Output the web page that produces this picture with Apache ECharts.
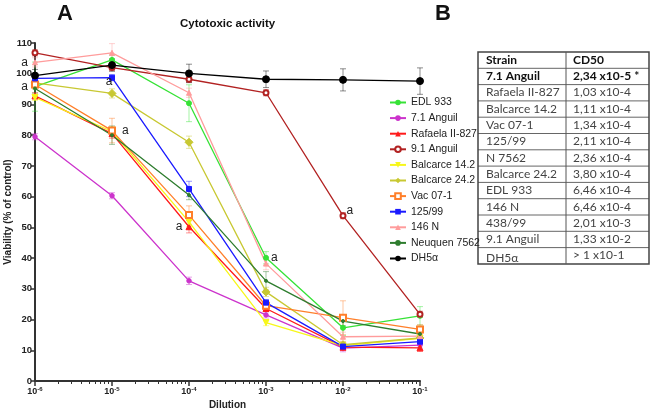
<!DOCTYPE html>
<html><head><meta charset="utf-8">
<script src="https://cdn.jsdelivr.net/npm/echarts@6/dist/echarts.min.js"></script>
<style>html,body{margin:0;padding:0;background:#fff}#c{width:651px;height:410px}</style>
</head><body><div id="c"></div>
<script>
// ---- data ----
const dilutions = [1e-6, 1e-5, 1e-4, 1e-3, 1e-2, 1e-1];
const xTickExponents = ['-6', '-5', '-4', '-3', '-2', '-1'];
const strains = ['EDL 933', '7.1 Anguil', 'Rafaela II-827', '9.1 Anguil', 'Balcarce 14.2', 'Balcarce 24.2', 'Vac 07-1', '125/99', '146 N', 'Neuquen 7562', 'DH5α'];
const edl933      = [95.8, 104.5, 90.4, 40.1, 17.3, 21.2];
const anguil71    = [79.5, 60.3, 32.6, 21.5, 10.7, 11.7];
const rafaela827  = [92.8, 80.5, 50.2, 23.6, 11.0, 10.8];
const anguil91    = [106.8, 102.0, 98.2, 93.8, 53.8, 21.7];
const balcarce142 = [92.3, 81.2, 51.8, 19.0, 11.5, 13.9];
const balcarce242 = [97.0, 93.6, 77.7, 29.0, 11.8, 14.0];
const vac071      = [96.5, 81.5, 54.0, 24.5, 20.6, 16.8];
const s125_99     = [98.5, 98.7, 62.5, 25.5, 11.2, 12.8];
const n146        = [103.7, 106.8, 93.8, 38.2, 14.4, 14.6];
const neuquen7562 = [95.2, 80.0, 60.5, 32.6, 19.5, 15.3];
const dh5a        = [99.4, 102.8, 100.1, 98.2, 98.0, 97.6];
// error bar half-widths (SEM)
const edl933Err      = [8, 1.5, 6, 2, 2.5, 3];
const anguil71Err    = [1, 1, 1.2, 1, 1.2, 1];
const rafaela827Err  = [1, 1.5, 2, 1, 1, 1.2];
const anguil91Err    = [1, 1, 1, 1, 1, 1];
const balcarce142Err = [1, 1.5, 1.5, 1, 1, 1];
const balcarce242Err = [1.5, 1.5, 2, 1.5, 1, 1];
const vac071Err      = [1.5, 4, 3, 1.5, 5.5, 1.5];
const s125_99Err     = [1, 1, 2.5, 1, 1, 1];
const n146Err        = [1.5, 3, 1.5, 2, 1.5, 1];
const neuquen7562Err = [1.5, 3, 1.5, 3, 1.5, 1];
const dh5aErr        = [2, 2, 3, 2.7, 3.6, 4.3];
const yTicks = [0, 10, 20, 30, 40, 50, 60, 70, 80, 90, 100, 110];
// annotated points ("a"): strain, point index
const annotations = [['146 N', 0], ['EDL 933', 0], ['125/99', 1], ['Vac 07-1', 1], ['Rafaela II-827', 2], ['EDL 933', 3], ['9.1 Anguil', 4]];
// table B
const tableStrains = ['7.1 Anguil', 'Rafaela II-827', 'Balcarce 14.2', 'Vac 07-1', '125/99', 'N 7562', 'Balcarce 24.2', 'EDL 933', '146 N', '438/99', '9.1 Anguil', 'DH5α'];
const tableCD50 = ['2,34 x10-5 *', '1,03 x10-4', '1,11 x10-4', '1,34 x10-4', '2,11 x10-4', '2,36 x10-4', '3,80 x10-4', '6,46 x10-4', '6,46 x10-4', '2,01 x10-3', '1,33 x10-2', '> 1 x10-1'];
const tableHeader = ['Strain', 'CD50'];

const values = [edl933, anguil71, rafaela827, anguil91, balcarce142, balcarce242, vac071, s125_99, n146, neuquen7562, dh5a];
const errs = [edl933Err, anguil71Err, rafaela827Err, anguil91Err, balcarce142Err, balcarce242Err, vac071Err, s125_99Err, n146Err, neuquen7562Err, dh5aErr];

// ---- styles ----
const styles = {
  'EDL 933':       {c: '#36e236', s: 'circle', z: 5},
  '7.1 Anguil':    {c: '#cc33cc', s: 'circle', z: 4.5},
  'Rafaela II-827':{c: '#ff1a1a', s: 'triangle', z: 6},
  '9.1 Anguil':    {c: '#b22222', s: 'emptyCircle', z: 5},
  'Balcarce 14.2': {c: '#f7f71a', s: 'triangle', z: 6, rot: 180},
  'Balcarce 24.2': {c: '#c8c832', s: 'diamond', z: 8},
  'Vac 07-1':      {c: '#ff7f2a', s: 'emptyRect', z: 6},
  '125/99':        {c: '#1a1aff', s: 'rect', z: 5},
  '146 N':         {c: '#ff9c9c', s: 'triangle', z: 5},
  'Neuquen 7562':  {c: '#2e7d2e', s: 'circle', z: 3},
  'DH5α':          {c: '#000000', s: 'circle', z: 7}
};
const annLabel = {
  '146 N|0': {position: 'left', distance: 4},
  'EDL 933|0': {position: 'left', distance: 4},
  '125/99|1': {position: 'inside', offset: [-3, 4]},
  'Vac 07-1|1': {position: 'right', distance: 6},
  'Rafaela II-827|2': {position: 'left', distance: 3},
  'EDL 933|3': {position: 'right', distance: 2},
  '9.1 Anguil|4': {position: 'right', offset: [-1, -5], distance: 1}
};

const FONT = '"Liberation Sans", Arial, sans-serif';
const series = [];
strains.forEach((name, i) => {
  const st = styles[name];
  series.push({
    name: 'err-' + name, type: 'custom', xAxisIndex: 0, yAxisIndex: 0, z: 1, silent: true,
    data: dilutions.map((d, j) => [d, values[i][j], errs[i][j]]),
    encode: {x: 0, y: 1},
    renderItem: (params, api) => {
      const x = api.value(0), y = api.value(1), e = api.value(2);
      const top = api.coord([x, y + e]), bot = api.coord([x, y - e]);
      const w = 3;
      const style = {stroke: st.c, lineWidth: 1, opacity: 0.45};
      return {type: 'group', children: [
        {type: 'line', shape: {x1: top[0], y1: top[1], x2: bot[0], y2: bot[1]}, style},
        {type: 'line', shape: {x1: top[0] - w, y1: top[1], x2: top[0] + w, y2: top[1]}, style},
        {type: 'line', shape: {x1: bot[0] - w, y1: bot[1], x2: bot[0] + w, y2: bot[1]}, style}
      ]};
    }
  });
});
strains.forEach((name, i) => {
  const st = styles[name];
  series.push({
    name, type: 'line', xAxisIndex: 0, yAxisIndex: 0, z: 3,
    symbol: st.s, symbolSize: st.z, symbolRotate: st.rot || 0, showSymbol: true,
    lineStyle: {color: st.c, width: 1.3},
    itemStyle: {color: st.c, borderColor: st.c},
    emphasis: {disabled: true},
    data: dilutions.map((d, j) => {
      const key = name + '|' + j;
      const isAnn = annotations.some(a => a[0] === name && a[1] === j);
      const item = {value: [d, values[i][j]]};
      if (isAnn) item.label = Object.assign({show: true, formatter: 'a', color: '#222', fontSize: 12, fontFamily: FONT}, annLabel[key] || {position: 'right'});
      return item;
    })
  });
});

const minorTicks = [];
for (let e = -6; e < -1; e++) for (let k = 2; k <= 9; k++) minorTicks.push(e + Math.log10(k));

// table graphic
const tbl = {x0: 478, x1: 566, x2: 649, y0: 52, rh: 16.3};
const tg = [];
const nRows = tableStrains.length + 1;
for (let r = 0; r < nRows; r++) {
  const y = tbl.y0 + r * tbl.rh;
  const bold = r <= 1;
  const cells = r === 0 ? tableHeader : [tableStrains[r - 1], tableCD50[r - 1]];
  const last = r === nRows - 1;
  tg.push({type: 'text', left: tbl.x0 + 8, top: y + (last ? 5 : 2), style: {text: cells[0], fontFamily: 'Lato, "Open Sans", sans-serif', fontSize: 12, fontWeight: bold ? 'bold' : 'normal', fill: bold ? '#111' : '#444'}});
  tg.push({type: 'text', left: tbl.x1 + 7, top: y + 2, style: {text: cells[1], fontFamily: 'Lato, "Open Sans", sans-serif', fontSize: 12, fontWeight: bold ? 'bold' : 'normal', fill: bold ? '#111' : '#444'}});
  if (r > 0) tg.push({type: 'line', shape: {x1: tbl.x0, y1: y, x2: tbl.x2, y2: y}, style: {stroke: '#666', lineWidth: 1}});
}
const tbot = tbl.y0 + nRows * tbl.rh;
tg.push({type: 'rect', shape: {x: tbl.x0, y: tbl.y0, width: tbl.x2 - tbl.x0, height: tbot - tbl.y0}, style: {fill: 'none', stroke: '#444', lineWidth: 1.5}});
tg.push({type: 'line', shape: {x1: tbl.x1, y1: tbl.y0, x2: tbl.x1, y2: tbot}, style: {stroke: '#555', lineWidth: 1}});

const chart = echarts.init(document.getElementById('c'), null, {renderer: 'canvas'});
chart.setOption({
  animation: false,
  backgroundColor: '#fff',
  grid: {left: 35, right: 231, top: 43, bottom: 29, containLabel: false, outerBoundsMode: 'none'},
  graphic: [
    {type: 'text', left: 57, top: 3, style: {text: 'A', fontFamily: FONT, fontSize: 22, fontWeight: 'bold', fill: '#111'}},
    {type: 'text', left: 435, top: 3, style: {text: 'B', fontFamily: FONT, fontSize: 22, fontWeight: 'bold', fill: '#111'}},
    {type: 'text', left: 180, top: 18, style: {text: 'Cytotoxic activity', fontFamily: FONT, fontSize: 11.5, fontWeight: 'bold', fill: '#111'}},
    ...tg
  ],
  legend: {
    orient: 'vertical', left: 384, top: 91, itemWidth: 16, itemHeight: 7, itemGap: 2.6,
    data: strains,
    textStyle: {fontFamily: FONT, fontSize: 10.5, color: '#222', lineHeight: 13},
    selectedMode: false
  },
  xAxis: [{
    type: 'log', logBase: 10, min: 1e-6, max: 1e-1, position: 'bottom',
    name: 'Dilution', nameLocation: 'middle', nameGap: 19, nameMoveOverlap: false,
    nameTextStyle: {fontFamily: FONT, fontSize: 10, fontWeight: 'bold', color: '#222'},
    axisLine: {onZero: false, lineStyle: {color: '#333', width: 2}},
    axisTick: {show: true, length: 5, lineStyle: {color: '#333', width: 1.5}},
    splitLine: {show: false}, minorTick: {show: false}, minorSplitLine: {show: false},
    axisLabel: {
      margin: 5, color: '#222', fontFamily: FONT,
      formatter: v => { const idx = dilutions.findIndex(d => Math.abs(Math.log10(d) - Math.log10(v)) < 1e-6); return idx < 0 ? '' : '{b|10}{s|' + xTickExponents[idx] + '}'; },
      rich: {b: {fontSize: 9, fontWeight: 'bold', fontFamily: FONT, color: '#222'}, s: {fontSize: 6, fontWeight: 'bold', fontFamily: FONT, color: '#222', verticalAlign: 'top', padding: [0, 0, 5, 0]}}
    }
  }, {
    type: 'value', min: -6, max: -1, position: 'bottom', show: true,
    axisLine: {show: false, onZero: false}, axisLabel: {show: false}, splitLine: {show: false},
    axisTick: {show: true, length: 3, customValues: minorTicks, lineStyle: {color: '#333', width: 1}}
  }],
  yAxis: {
    type: 'value', min: 0, max: 110, interval: 10,
    name: 'Viability (% of control)', nameLocation: 'middle', nameGap: 22, nameMoveOverlap: false,
    nameTextStyle: {fontFamily: FONT, fontSize: 10, fontWeight: 'bold', color: '#222'},
    axisLine: {show: true, lineStyle: {color: '#333', width: 2}},
    axisTick: {show: true, length: 4, lineStyle: {color: '#333', width: 1.5}},
    splitLine: {show: false},
    axisLabel: {margin: 3, color: '#222', fontFamily: FONT, fontSize: 9.5, fontWeight: 'bold', customValues: yTicks}
  },
  series
});
</script></body></html>
